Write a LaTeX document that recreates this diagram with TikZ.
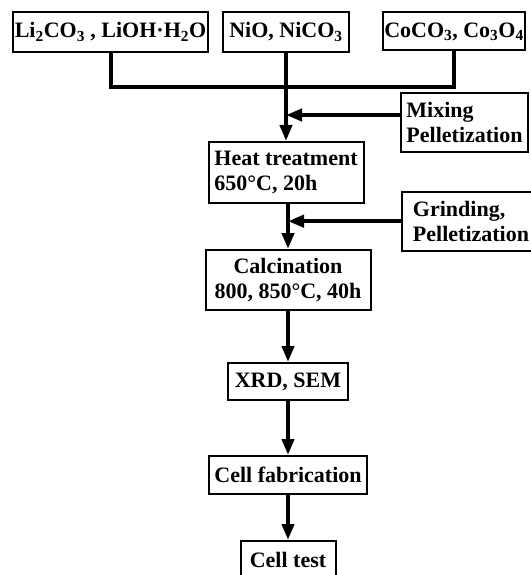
\documentclass[tikz,border=0pt]{standalone}
\usepackage{fontspec}
\setmainfont{Liberation Serif}
\usetikzlibrary{arrows.meta}
\tikzset{
  stepbox/.style={draw, line width=2pt, inner sep=0pt, align=center,
    font=\fontsize{22}{25}\selectfont\bfseries},
  flow/.style={line width=4pt},
  flowarrow/.style={flow, -{Triangle[length=16pt,width=12pt]}},
}
\begin{document}
\begin{tikzpicture}[x=1pt,y=-1pt]
% \draw[help lines, gray] (0,0) grid[step=50] (530,575);
\useasboundingbox (0,0) rectangle (530,575);
% raw materials
\node (li) [stepbox, minimum width=195, minimum height=40] at (110.5,32) {Li\textsubscript{2}CO\textsubscript{3} , LiOH·H\textsubscript{2}O};
\node (ni) [stepbox, minimum width=126, minimum height=40] at (286,32) {NiO, NiCO\textsubscript{3}};
\node (co) [stepbox, minimum width=142, minimum height=38] at (454,31.5) {CoCO\textsubscript{3}, Co\textsubscript{3}O\textsubscript{4}};
% side steps
\node (mix) [stepbox, align=left, minimum width=127, minimum height=59] at (464.5,122.2) {Mixing\\Pelletization};
\node (grind) [stepbox, align=left, minimum width=139, minimum height=59] at (471,221.2) {Grinding,\\Pelletization};
% main line
\node (heat) [stepbox, align=left, minimum width=155, minimum height=61] at (286,172.5) {Heat treatment\\650°C, 20h};
\node (calc) [stepbox, minimum width=165, minimum height=60] at (288,280) {Calcination\\800, 850°C, 40h};
\node (xrd) [stepbox, minimum width=120, minimum height=37] at (288,381.5) {XRD, SEM};
\node (fab) [stepbox, minimum width=158, minimum height=38] at (288,475) {Cell fabrication};
\node (test) [stepbox, minimum width=95, minimum height=38] at (288,560) {Cell test};
\coordinate (join) at (286,87);
\coordinate (mixin) at (286,115);
% connectors
\draw [flow] (li.south) |- (join) -| (co.south);
\draw [flowarrow] (ni.south) -- (heat.north);
\draw [flowarrow] (mixin -| mix.west) -- (mixin);
\draw [flowarrow] (heat.south -| calc.north) -- (calc.north);
\draw [flowarrow] (grind.west) -- (grind.west -| calc.north);
\draw [flowarrow] (calc.south) -- (xrd.north);
\draw [flowarrow] (xrd.south) -- (fab.north);
\draw [flowarrow] (fab.south) -- (test.north);
\end{tikzpicture}
\end{document}
